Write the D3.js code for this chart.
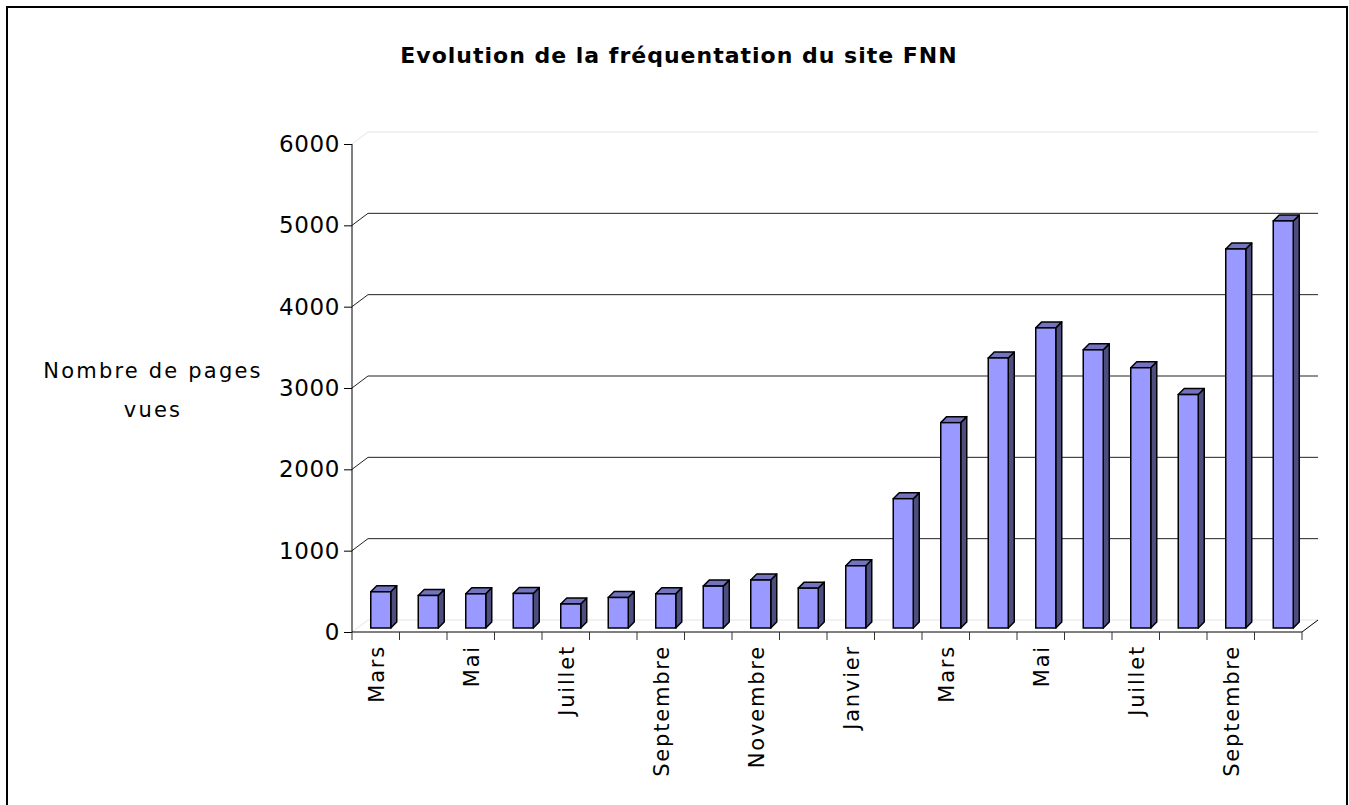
<!DOCTYPE html>
<html>
<head>
<meta charset="utf-8">
<script src="https://cdn.jsdelivr.net/npm/d3@7"></script>
<style>
  body { margin: 0; background: #fff; }
  svg { display: block; font-family: "DejaVu Sans", sans-serif; }
</style>
</head>
<body>
<div id="chart"></div>
<script>
// months (Mars of year 1 to Octobre of year 2)
const months = ['Mars', 'Avril', 'Mai', 'Juin', 'Juillet', 'Août', 'Septembre', 'Octobre', 'Novembre', 'Décembre',
  'Janvier', 'Février', 'Mars', 'Avril', 'Mai', 'Juin', 'Juillet', 'Août', 'Septembre', 'Octobre'];
const pageViews = [445, 400, 420, 425, 295, 375, 420, 515, 590, 490,
  765, 1590, 2525, 3320, 3690, 3420, 3200, 2870, 4660, 5005];
const yTicks = [0, 1000, 2000, 3000, 4000, 5000, 6000];

const width = 1349;
const height = 805;
const margin = { top: 144, right: 47, bottom: 173, left: 352 };
const depth = { dx: 16, dy: -12 };   // back wall offset
const barOff = { dx: 5, dy: -4 };    // bars sit a bit behind the front
const barW = 20;
const barDepth = 6;

const svg = d3.select('#chart')
  .append('svg')
  .attr('width', width)
  .attr('height', height);

// frame
svg.append('rect')
  .attr('x', 7).attr('y', 7)
  .attr('width', width - 9).attr('height', height)
  .attr('fill', 'none')
  .attr('stroke', '#000')
  .attr('stroke-width', 2);

const x = d3.scaleBand()
  .domain(d3.range(months.length))
  .range([margin.left, width - margin.right]);

const y = d3.scaleLinear()
  .domain([0, 6000])
  .range([height - margin.bottom, margin.top]);

const x0 = margin.left;
const x1 = width - margin.right;

// gridlines on the back wall
yTicks.forEach((t) => {
  const faint = t === 0 || t === 6000;
  svg.append('path')
    .attr('d', `M${x0},${y(t)} L${x0 + depth.dx},${y(t) + depth.dy} L${x1 + depth.dx},${y(t) + depth.dy}`)
    .attr('fill', 'none')
    .attr('stroke', faint ? '#e4e4e4' : '#222')
    .attr('stroke-width', 1);
});

// floor right edge
svg.append('line')
  .attr('x1', x1).attr('y1', y(0))
  .attr('x2', x1 + depth.dx).attr('y2', y(0) + depth.dy)
  .attr('stroke', '#000');

// bars
const bars = svg.append('g')
  .selectAll('g')
  .data(pageViews)
  .enter()
  .append('g');

const frontX = (i) => x(i) + x.bandwidth() / 2 + barOff.dx - barW / 2;
const base = y(0) + barOff.dy;

bars.append('path') // side
  .attr('d', (d, i) => {
    const r = frontX(i) + barW;
    const top = y(d) + barOff.dy;
    return `M${r},${top} L${r + barDepth},${top - barDepth} L${r + barDepth},${base - barDepth} L${r},${base} Z`;
  })
  .attr('fill', '#4d4d80')
  .attr('stroke', '#000')
  .attr('stroke-width', 1.5)
  .attr('stroke-linejoin', 'round');

bars.append('path') // top
  .attr('d', (d, i) => {
    const l = frontX(i);
    const top = y(d) + barOff.dy;
    return `M${l},${top} L${l + barDepth},${top - barDepth} L${l + barW + barDepth},${top - barDepth} L${l + barW},${top} Z`;
  })
  .attr('fill', '#7373bf')
  .attr('stroke', '#000')
  .attr('stroke-width', 1.5)
  .attr('stroke-linejoin', 'round');

bars.append('rect') // front
  .attr('x', (d, i) => frontX(i))
  .attr('y', (d) => y(d) + barOff.dy)
  .attr('width', barW)
  .attr('height', (d) => base - (y(d) + barOff.dy))
  .attr('fill', '#9999ff')
  .attr('stroke', '#000')
  .attr('stroke-width', 1.5);

// y axis
const yAxis = d3.axisLeft(y)
  .tickValues(yTicks)
  .tickSize(8)
  .tickPadding(4)
  .tickFormat(d3.format('d'));

svg.append('g')
  .attr('transform', `translate(${x0},0)`)
  .call(yAxis)
  .call((g) => g.select('.domain').attr('d', `M0,${y(6000)} V${y(0)}`))
  .call((g) => g.selectAll('text')
    .attr('font-size', 23)
    .attr('letter-spacing', 0.6)
    .attr('font-family', '"DejaVu Sans", sans-serif')
    .attr('fill', '#000'));

// x axis: floor front line, ticks between categories
const xAxisG = svg.append('g');
xAxisG.append('line')
  .attr('x1', x0).attr('x2', x1)
  .attr('y1', y(0)).attr('y2', y(0))
  .attr('stroke', '#000');

xAxisG.selectAll('line.tick')
  .data(d3.range(months.length + 1))
  .enter()
  .append('line')
  .attr('class', 'tick')
  .attr('x1', (i) => x0 + i * x.step())
  .attr('x2', (i) => x0 + i * x.step())
  .attr('y1', y(0))
  .attr('y2', y(0) + 8)
  .attr('stroke', '#333');

xAxisG.selectAll('text')
  .data(months)
  .enter()
  .filter((d, i) => i % 2 === 0)
  .append('text')
  .attr('transform', (d, i) => `translate(${x(i * 2) + x.bandwidth() / 2 + 8},${y(0) + 13}) rotate(-90)`)
  .attr('text-anchor', 'end')
  .attr('font-size', 21)
  .attr('letter-spacing', 1.8)
  .attr('fill', '#000')
  .text((d) => d);

// y title
svg.append('text')
  .attr('x', 153)
  .attr('y', 378)
  .attr('text-anchor', 'middle')
  .attr('font-size', 21)
  .attr('letter-spacing', 2.2)
  .text('Nombre de pages');
svg.append('text')
  .attr('x', 153)
  .attr('y', 417)
  .attr('text-anchor', 'middle')
  .attr('font-size', 21)
  .attr('letter-spacing', 2.2)
  .text('vues');

// chart title
svg.append('text')
  .attr('x', 679)
  .attr('y', 63)
  .attr('text-anchor', 'middle')
  .attr('font-size', 22)
  .attr('font-weight', 'bold')
  .attr('letter-spacing', 1)
  .text('Evolution de la fréquentation du site FNN');
</script>
</body>
</html>
